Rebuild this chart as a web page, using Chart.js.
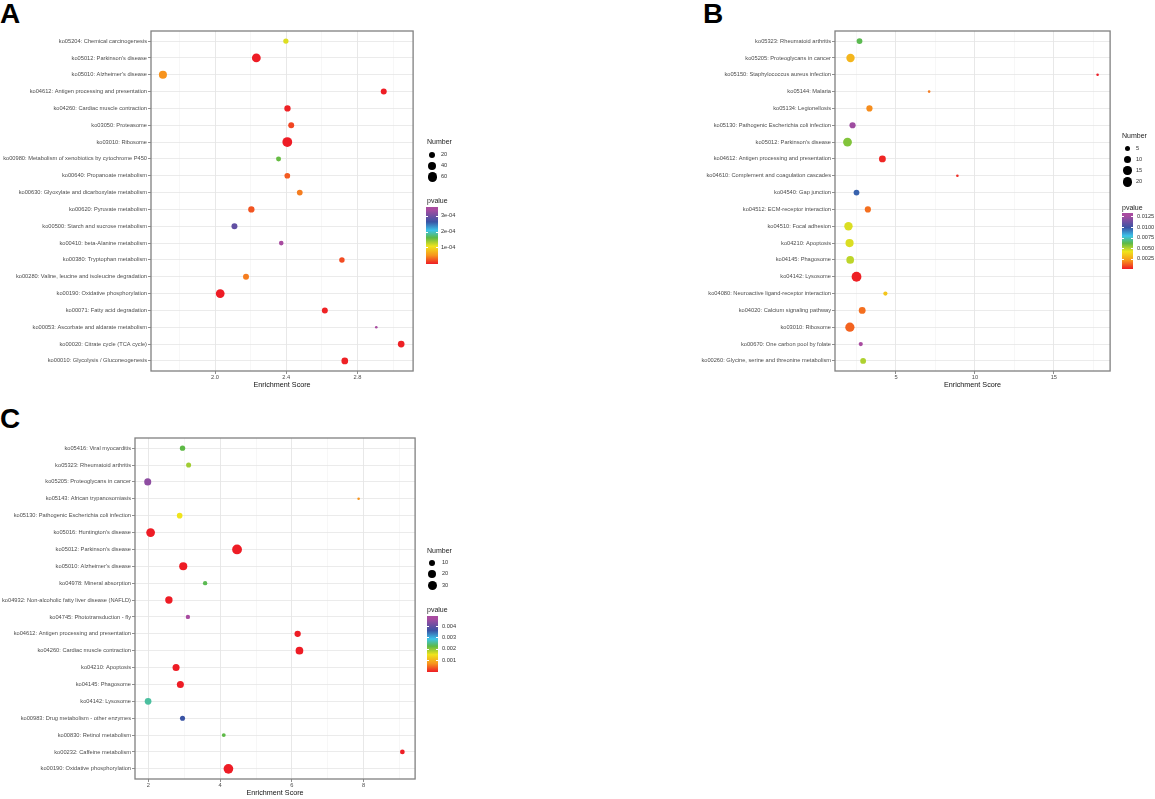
<!DOCTYPE html>
<html>
<head>
<meta charset="utf-8">
<script src="https://cdn.jsdelivr.net/npm/chart.js@4.4.0/dist/chart.umd.min.js"></script>
<style>
  body { margin: 0; background: #fff; font-family: "Liberation Sans", Arial, sans-serif; }
  #page { position: relative; width: 1155px; height: 799px; overflow: hidden; }
  canvas { position: absolute; }
  .tag { position: absolute; font-weight: bold; font-size: 28px; line-height: 28px; color: #000; }
  .lg { position: absolute; white-space: nowrap; color: #333; will-change: transform; }
</style>
</head>
<body>
<div id="page">
  <div class="tag" style="left:0px;top:0px">A</div>
  <div class="tag" style="left:703px;top:0px">B</div>
  <div class="tag" style="left:0px;top:405px">C</div>
  <canvas id="chartA" width="418" height="365" style="left:0px;top:25px"></canvas>
  <canvas id="chartB" width="475" height="365" style="left:640px;top:25px"></canvas>
  <canvas id="chartC" width="420" height="368" style="left:0px;top:430px"></canvas>
</div>
<script>
// panel A
const termsA = ["ko05204: Chemical carcinogenesis", "ko05012: Parkinson's disease", "ko05010: Alzheimer's disease",
  "ko04612: Antigen processing and presentation", "ko04260: Cardiac muscle contraction", "ko03050: Proteasome",
  "ko03010: Ribosome", "ko00980: Metabolism of xenobiotics by cytochrome P450", "ko00640: Propanoate metabolism",
  "ko00630: Glyoxylate and dicarboxylate metabolism", "ko00620: Pyruvate metabolism", "ko00500: Starch and sucrose metabolism",
  "ko00410: beta-Alanine metabolism", "ko00380: Tryptophan metabolism", "ko00280: Valine, leucine and isoleucine degradation",
  "ko00190: Oxidative phosphorylation", "ko00071: Fatty acid degradation", "ko00053: Ascorbate and aldarate metabolism",
  "ko00020: Citrate cycle (TCA cycle)", "ko00010: Glycolysis / Gluconeogenesis"];
const scoreA = [2.398, 2.232, 1.707, 2.948, 2.407, 2.428, 2.406, 2.357, 2.406, 2.476,
  2.204, 2.109, 2.372, 2.713, 2.174, 2.029, 2.617, 2.906, 3.046, 2.729];
const numberA = [15, 53, 43, 20, 23, 20, 70, 13, 18, 18, 23, 20, 11, 16, 20, 53, 20, 6, 27, 27];
const pvalueA = [1.17e-4, 1e-7, 5.3e-5, 1e-6, 2e-6, 1.8e-5, 1e-10, 1.6e-4, 2.8e-5, 4.3e-5,
  2.5e-5, 2.9e-4, 3.55e-4, 2.1e-5, 4.3e-5, 1e-8, 3e-6, 3.4e-4, 2e-6, 2e-6];
const majorA = [2.0, 2.4, 2.8];
const minorA = [1.8, 2.2, 2.6, 3.0];
const sizeBreaksA = [20, 40, 60];
const pBreaksA = [1e-4, 2e-4, 3e-4];
const pLabelsA = ["1e-04", "2e-04", "3e-04"];

// panel B
const termsB = ["ko05323: Rheumatoid arthritis", "ko05205: Proteoglycans in cancer", "ko05150: Staphylococcus aureus infection",
  "ko05144: Malaria", "ko05134: Legionellosis", "ko05130: Pathogenic Escherichia coli infection", "ko05012: Parkinson's disease",
  "ko04612: Antigen processing and presentation", "ko04610: Complement and coagulation cascades", "ko04540: Gap junction",
  "ko04512: ECM-receptor interaction", "ko04510: Focal adhesion", "ko04210: Apoptosis", "ko04145: Phagosome",
  "ko04142: Lysosome", "ko04080: Neuroactive ligand-receptor interaction", "ko04020: Calcium signaling pathway",
  "ko03010: Ribosome", "ko00670: One carbon pool by folate", "ko00260: Glycine, serine and threonine metabolism"];
const scoreB = [2.69, 2.12, 17.77, 7.10, 3.32, 2.25, 1.93, 4.14, 8.89, 2.50,
  3.22, 1.99, 2.06, 2.10, 2.50, 4.33, 2.86, 2.08, 2.77, 2.92];
const numberB = [6, 15, 2, 2, 7, 7, 17, 9, 2, 6, 7, 15, 14, 12, 22, 3, 9, 19, 3, 6];
const pvalueB = [0.0063, 0.0030, 0.00014, 0.0017, 0.0020, 0.0124, 0.0057, 0.0003, 0.0004, 0.0096,
  0.0015, 0.0045, 0.0045, 0.0049, 0.0002, 0.0034, 0.0015, 0.0013, 0.0133, 0.0051];
const majorB = [5, 10, 15];
const minorB = [2.5, 7.5, 12.5, 17.5];
const sizeBreaksB = [5, 10, 15, 20];
const pBreaksB = [0.0025, 0.005, 0.0075, 0.01, 0.0125];
const pLabelsB = ["0.0025", "0.0050", "0.0075", "0.0100", "0.0125"];

// panel C
const termsC = ["ko05416: Viral myocarditis", "ko05323: Rheumatoid arthritis", "ko05205: Proteoglycans in cancer",
  "ko05143: African trypanosomiasis", "ko05130: Pathogenic Escherichia coli infection", "ko05016: Huntington's disease",
  "ko05012: Parkinson's disease", "ko05010: Alzheimer's disease", "ko04978: Mineral absorption",
  "ko04932: Non-alcoholic fatty liver disease (NAFLD)", "ko04745: Phototransduction - fly",
  "ko04612: Antigen processing and presentation", "ko04260: Cardiac muscle contraction", "ko04210: Apoptosis",
  "ko04145: Phagosome", "ko04142: Lysosome", "ko00983: Drug metabolism - other enzymes", "ko00830: Retinol metabolism",
  "ko00232: Caffeine metabolism", "ko00190: Oxidative phosphorylation"];
const scoreC = [2.95, 3.12, 1.98, 7.86, 2.87, 2.06, 4.47, 2.97, 3.58, 2.57,
  3.10, 6.16, 6.21, 2.77, 2.89, 1.99, 2.95, 4.10, 9.08, 4.23];
const numberC = [7, 6, 15, 2, 8, 27, 36, 22, 4, 17, 4, 11, 19, 15, 15, 13, 6, 3, 5, 35];
const pvalueC = [0.00227, 0.00193, 0.00445, 0.00074, 0.00153, 1e-6, 1e-8, 1e-7, 0.00232, 2e-6,
  0.00494, 5e-6, 1e-6, 3e-6, 3e-6, 0.00262, 0.00366, 0.00227, 1e-5, 1e-9];
const majorC = [2, 4, 6, 8];
const minorC = [3, 5, 7, 9];
const sizeBreaksC = [10, 20, 30];
const pBreaksC = [0.001, 0.002, 0.003, 0.004];
const pLabelsC = ["0.001", "0.002", "0.003", "0.004"];

const FONT = '"Liberation Sans", Arial, sans-serif';
const rMin = 1.3, rMax = 4.9;
// low p (red) -> high p (purple)
const rampPos = [0, 0.15, 0.31, 0.46, 0.59, 0.74, 0.95];
const rampCol = ['#EE1C25', '#F7941D', '#F0E41C', '#5DB946', '#3CC4EA', '#3953A4', '#A84BA0'];

function sizeScale(values) {
  const lo = Math.min(...values), hi = Math.max(...values);
  return n => rMin + (rMax - rMin) * Math.sqrt(Math.max(0, (n - lo) / (hi - lo)));
}

function hex(h) {
  return [1, 3, 5].map(i => parseInt(h.slice(i, i + 2), 16));
}

function ramp(t) {
  t = Math.min(1, Math.max(0, t));
  for (let i = 1; i < rampPos.length; i++) {
    if (t <= rampPos[i]) {
      const f = (t - rampPos[i - 1]) / (rampPos[i] - rampPos[i - 1]);
      const a = hex(rampCol[i - 1]), b = hex(rampCol[i]);
      return 'rgb(' + a.map((v, k) => Math.round(v + (b[k] - v) * f)).join(',') + ')';
    }
  }
  return rampCol[rampCol.length - 1];
}

function colourScale(values) {
  const lo = Math.min(...values), hi = Math.max(...values);
  return p => ramp((p - lo) / (hi - lo));
}

const panelBorder = {
  id: 'panelBorder',
  afterDraw(chart) {
    const { ctx, chartArea: a } = chart;
    ctx.save();
    ctx.strokeStyle = '#808080';
    ctx.lineWidth = 1.3;
    ctx.strokeRect(a.left, a.top, a.right - a.left, a.bottom - a.top);
    ctx.restore();
  }
};

function drawPanel(id, terms, score, number, pvalue, majors, minors, fmt, yWidth, pad) {
  const size = sizeScale(number), colour = colourScale(pvalue);
  const lo = Math.min(...score), hi = Math.max(...score), ex = (hi - lo) * 0.05;
  const xmin = lo - ex, xmax = hi + ex;
  const xticks = majors.concat(minors).filter(v => v >= xmin && v <= xmax).sort((a, b) => a - b);
  const isMajor = v => majors.includes(v);

  return new Chart(document.getElementById(id), {
    type: 'bubble',
    data: {
      datasets: [{
        data: terms.map((t, i) => ({ x: score[i], y: i, r: size(number[i]) })),
        backgroundColor: pvalue.map(colour),
        borderWidth: 0,
        hoverBorderWidth: 0
      }]
    },
    options: {
      responsive: false,
      animation: false,
      events: [],
      layout: { padding: pad },
      plugins: { legend: { display: false }, tooltip: { enabled: false } },
      scales: {
        x: {
          type: 'linear', min: xmin, max: xmax,
          afterBuildTicks: s => { s.ticks = xticks.map(v => ({ value: v })); },
          afterFit: s => { s.height = 19; },
          ticks: {
            callback: v => isMajor(v) ? fmt(v) : '',
            font: { size: 5.7, family: FONT }, color: '#4d4d4d',
            padding: 0, maxRotation: 0, autoSkip: false
          },
          grid: {
            color: c => isMajor(c.tick.value) ? '#e2e2e2' : '#eeeeee',
            lineWidth: c => isMajor(c.tick.value) ? 0.8 : 0.5,
            tickLength: 3,
            tickColor: c => isMajor(c.tick.value) ? '#444' : 'rgba(0,0,0,0)',
            tickWidth: 0.6
          },
          border: { display: false },
          title: {
            display: true, text: 'Enrichment Score', color: '#111',
            font: { size: 7.2, family: FONT }, padding: { top: 0, bottom: 1 }
          }
        },
        y: {
          type: 'linear', reverse: true, min: -0.6, max: terms.length - 0.4,
          afterBuildTicks: s => { s.ticks = terms.map((t, i) => ({ value: i })); },
          afterFit: s => { s.width = yWidth; },
          ticks: {
            callback: v => terms[v],
            font: { size: 5.7, family: FONT }, color: '#4d4d4d',
            padding: 1, autoSkip: false
          },
          grid: { color: '#e6e6e6', lineWidth: 0.8, tickLength: 3, tickColor: '#444', tickWidth: 0.6 },
          border: { display: false }
        }
      }
    },
    plugins: [panelBorder]
  });
}

function addText(text, x, y, size, extra) {
  const d = document.createElement('div');
  d.className = 'lg';
  d.textContent = text;
  d.style.left = x + 'px';
  d.style.top = (y - size / 2) + 'px';
  d.style.fontSize = size + 'px';
  d.style.lineHeight = size + 'px';
  if (extra) Object.assign(d.style, extra);
  document.getElementById('page').appendChild(d);
}

function drawLegend(L, number, sizeBreaks, pvalue, pBreaks, pLabels) {
  const page = document.getElementById('page');
  const size = sizeScale(number);
  addText('Number', L.x, L.numY, 7, { color: '#222' });
  sizeBreaks.forEach((n, i) => {
    const r = size(n);
    const c = document.createElement('div');
    Object.assign(c.style, {
      position: 'absolute', left: (L.circleX - r) + 'px', top: (L.sizeY[i] - r) + 'px',
      width: 2 * r + 'px', height: 2 * r + 'px', borderRadius: '50%', background: '#000'
    });
    page.appendChild(c);
    addText(String(n), L.labelX, L.sizeY[i], 5.6);
  });
  addText('pvalue', L.x, L.pY, 7, { color: '#222' });
  const bar = document.createElement('div');
  const stops = rampPos.map((p, i) => rampCol[i] + ' ' + (p * 100) + '%').join(',');
  Object.assign(bar.style, {
    position: 'absolute', left: L.barX + 'px', top: L.barTop + 'px',
    width: L.barW + 'px', height: (L.barBottom - L.barTop) + 'px',
    background: 'linear-gradient(to top,' + stops + ')'
  });
  page.appendChild(bar);
  const lo = Math.min(...pvalue), hi = Math.max(...pvalue);
  pBreaks.forEach((v, i) => {
    const y = L.barBottom - (v - lo) / (hi - lo) * (L.barBottom - L.barTop);
    addText(pLabels[i], L.pLabelX, y, 5.6);
    [L.barX, L.barX + L.barW - 2].forEach(tx => {
      const t = document.createElement('div');
      Object.assign(t.style, {
        position: 'absolute', left: tx + 'px', top: (y - 0.4) + 'px',
        width: '2px', height: '0.8px', background: '#fff'
      });
      page.appendChild(t);
    });
  });
}

drawPanel('chartA', termsA, scoreA, numberA, pvalueA, majorA, minorA, v => v.toFixed(1), 151,
  { top: 6, right: 2, bottom: 0, left: 0 });
drawPanel('chartB', termsB, scoreB, numberB, pvalueB, majorB, minorB, v => String(v), 195,
  { top: 6, right: 4, bottom: 0, left: 0 });
drawPanel('chartC', termsC, scoreC, numberC, pvalueC, majorC, minorC, v => String(v), 135,
  { top: 8, right: 4, bottom: 0, left: 0 });

drawLegend({ x: 427, numY: 141.7, circleX: 432.3, labelX: 440.7, sizeY: [154.7, 165.7, 177],
  pY: 200.7, barX: 426.3, barW: 11.4, barTop: 207.3, barBottom: 263.7, pLabelX: 441 },
  numberA, sizeBreaksA, pvalueA, pBreaksA, pLabelsA);
drawLegend({ x: 1122, numY: 135.7, circleX: 1127.7, labelX: 1136, sizeY: [148.3, 159.3, 170.7, 182],
  pY: 207, barX: 1121.7, barW: 11.6, barTop: 213.3, barBottom: 269.3, pLabelX: 1137 },
  numberB, sizeBreaksB, pvalueB, pBreaksB, pLabelsB);
drawLegend({ x: 426.7, numY: 550, circleX: 432.3, labelX: 441.7, sizeY: [562.7, 574, 585.3],
  pY: 609, barX: 426.7, barW: 11, barTop: 615.7, barBottom: 671.7, pLabelX: 441.7 },
  numberC, sizeBreaksC, pvalueC, pBreaksC, pLabelsC);
</script>
</body>
</html>
